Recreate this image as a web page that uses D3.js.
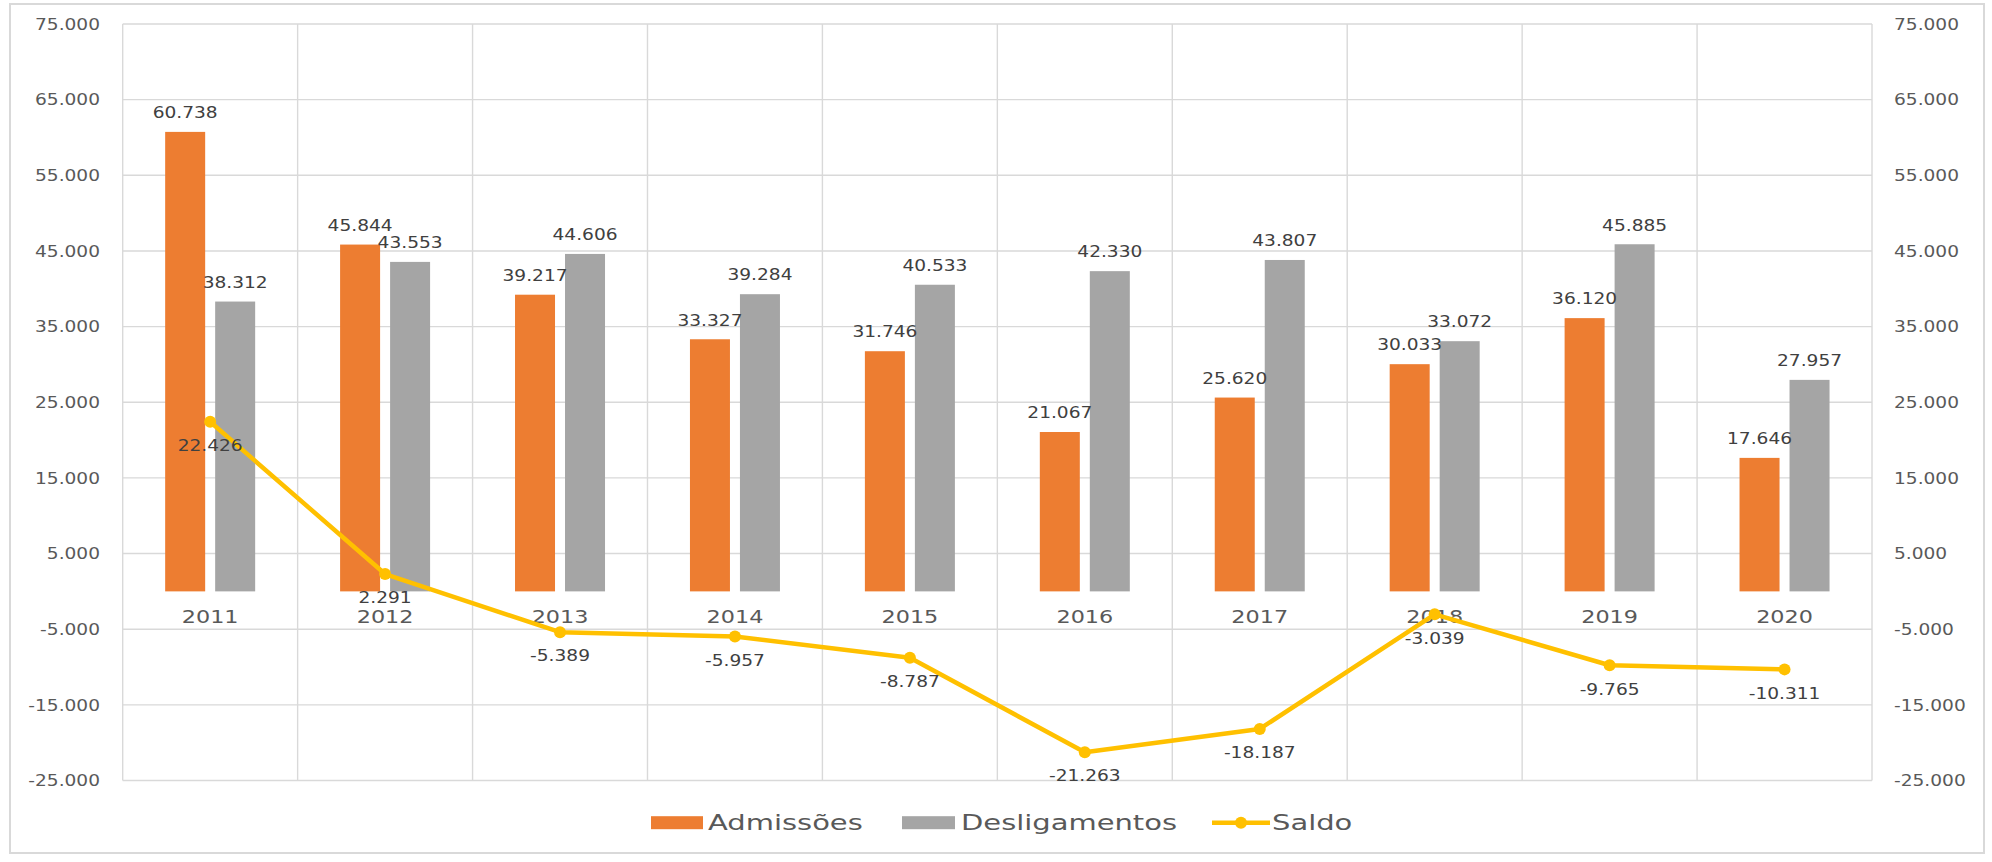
<!DOCTYPE html>
<html>
<head>
<meta charset="utf-8">
<script src="https://cdn.jsdelivr.net/npm/d3@7"></script>
<style>
html,body{margin:0;padding:0;background:#fff;}
svg{display:block;}
</style>
</head>
<body>
<svg id="chart" width="1992" height="862"></svg>
<script>
const years = ["2011","2012","2013","2014","2015","2016","2017","2018","2019","2020"];
const admissoes = [60738,45844,39217,33327,31746,21067,25620,30033,36120,17646];
const desligamentos = [38312,43553,44606,39284,40533,42330,43807,33072,45885,27957];
const saldo = [22426,2291,-5389,-5957,-8787,-21263,-18187,-3039,-9765,-10311];
const yTicks = [-25000,-15000,-5000,5000,15000,25000,35000,45000,55000,65000,75000];
const seriesNames = ["Admissões","Desligamentos","Saldo"];

const W = 1992, H = 862;
const plot = {left:122.7, right:1872, top:24, bottom:780.5};
const STRETCH = 1.24;
const LEG_STRETCH = 1.38;
const numFont = "DejaVu Sans";
const colors = {adm:"#ED7D31", des:"#A5A5A5", saldo:"#FFC000"};

const loc = d3.formatLocale({decimal:",", thousands:".", grouping:[3], currency:["",""], minus:"-"});
const fmt = loc.format(",d");

const svg = d3.select("#chart");
svg.append("rect").attr("x",0).attr("y",0).attr("width",W).attr("height",H).attr("fill","#fff");
// outer border
svg.append("rect").attr("x",10).attr("y",4).attr("width",1974).attr("height",849)
  .attr("fill","none").attr("stroke","#d9d9d9").attr("stroke-width",2);

const x = d3.scaleBand().domain(years).range([plot.left, plot.right]).padding(0);
const x1 = d3.scaleBand().domain(["adm","des"]).range([-45,45]).paddingInner(0.2);
const y = d3.scaleLinear().domain([-25000,75000]).range([plot.bottom, plot.top]);
const yR = d3.scaleLinear().domain([-25000,75000]).range([plot.bottom, plot.top]);

// gridlines
const grid = svg.append("g").attr("stroke","#d9d9d9").attr("stroke-width",1.4);
grid.selectAll("line.h").data(yTicks).join("line").attr("class","h")
  .attr("x1",plot.left).attr("x2",plot.right)
  .attr("y1",d=>y(d)).attr("y2",d=>y(d));
const vx = years.map(d=>x(d)).concat([plot.right]);
grid.selectAll("line.v").data(vx).join("line").attr("class","v")
  .attr("x1",d=>d).attr("x2",d=>d)
  .attr("y1",plot.top).attr("y2",plot.bottom);

function stretchText(sel){
  sel.each(function(){
    const t = d3.select(this);
    const tx = +t.attr("x")||0;
    t.attr("x",0).attr("transform",`translate(${tx},0) scale(${STRETCH},1)`);
  });
}

// left axis
const axL = svg.append("g").attr("transform","translate(100,0)")
  .call(d3.axisLeft(y).tickValues(yTicks).tickFormat(fmt).tickSize(0).tickPadding(0));
axL.select(".domain").remove();
axL.selectAll("text").attr("font-family",numFont).attr("font-size",15).attr("fill","#595959")
  .attr("dy","0.35em").call(stretchText);

// right axis
const axR = svg.append("g").attr("transform","translate(1894,0)")
  .call(d3.axisRight(yR).tickValues(yTicks).tickFormat(fmt).tickSize(0).tickPadding(0));
axR.select(".domain").remove();
axR.selectAll("text").attr("font-family",numFont).attr("font-size",15).attr("fill","#595959")
  .attr("dy","0.35em").call(stretchText);

// category labels
const axB = svg.append("g").attr("transform",`translate(0,${y(0)+25})`)
  .call(d3.axisBottom(x).tickSize(0).tickPadding(0));
axB.select(".domain").remove();
axB.selectAll("text").attr("font-family",numFont).attr("font-size",18).attr("fill","#595959")
  .attr("dy","0.35em").attr("y",0).call(stretchText);

// bars
const data = years.map((yr,i)=>({yr, adm:admissoes[i], des:desligamentos[i], saldo:saldo[i]}));
const groups = svg.append("g").selectAll("g").data(data).join("g")
  .attr("transform",d=>`translate(${x(d.yr)+x.bandwidth()/2},0)`);
["adm","des"].forEach(k=>{
  groups.append("rect")
    .attr("x",x1(k)).attr("width",x1.bandwidth())
    .attr("y",d=>y(d[k])).attr("height",d=>y(0)-y(d[k]))
    .attr("fill",colors[k]);
});

// bar labels
["adm","des"].forEach(k=>{
  groups.append("g")
    .attr("transform",d=>`translate(${x1(k)+x1.bandwidth()/2},${y(d[k])-19}) scale(${STRETCH},1)`)
    .append("text").attr("text-anchor","middle").attr("dy","0.35em")
    .attr("font-family",numFont).attr("font-size",15).attr("fill","#404040")
    .text(d=>fmt(d[k]));
});

// line
const cx = d=>x(d.yr)+x.bandwidth()/2;
const line = d3.line().x(cx).y(d=>y(d.saldo));
svg.append("path").datum(data).attr("d",line).attr("fill","none")
  .attr("stroke",colors.saldo).attr("stroke-width",4.5).attr("stroke-linejoin","round");
svg.append("g").selectAll("circle").data(data).join("circle")
  .attr("cx",cx).attr("cy",d=>y(d.saldo)).attr("r",6).attr("fill",colors.saldo);
svg.append("g").selectAll("g").data(data).join("g")
  .attr("transform",d=>`translate(${cx(d)},${y(d.saldo)+24}) scale(${STRETCH},1)`)
  .append("text").attr("text-anchor","middle").attr("dy","0.35em")
  .attr("font-family",numFont).attr("font-size",15).attr("fill","#404040")
  .text(d=>fmt(d.saldo));

// legend
const leg = svg.append("g").attr("font-family",numFont).attr("font-size",21).attr("fill","#595959");
const legY = 822.7;
function legText(xp, txt){
  leg.append("g").attr("transform",`translate(${xp},${legY}) scale(${LEG_STRETCH},1)`)
    .append("text").attr("dy","0.35em").text(txt);
}
leg.append("rect").attr("x",651).attr("y",legY-6.5).attr("width",52).attr("height",13).attr("fill",colors.adm);
legText(708, seriesNames[0]);
leg.append("rect").attr("x",902).attr("y",legY-6.5).attr("width",53).attr("height",13).attr("fill",colors.des);
legText(961, seriesNames[1]);
leg.append("line").attr("x1",1212).attr("x2",1270).attr("y1",legY).attr("y2",legY)
  .attr("stroke",colors.saldo).attr("stroke-width",4.5);
leg.append("circle").attr("cx",1241).attr("cy",legY).attr("r",6).attr("fill",colors.saldo);
legText(1272, seriesNames[2]);
</script>
</body>
</html>
